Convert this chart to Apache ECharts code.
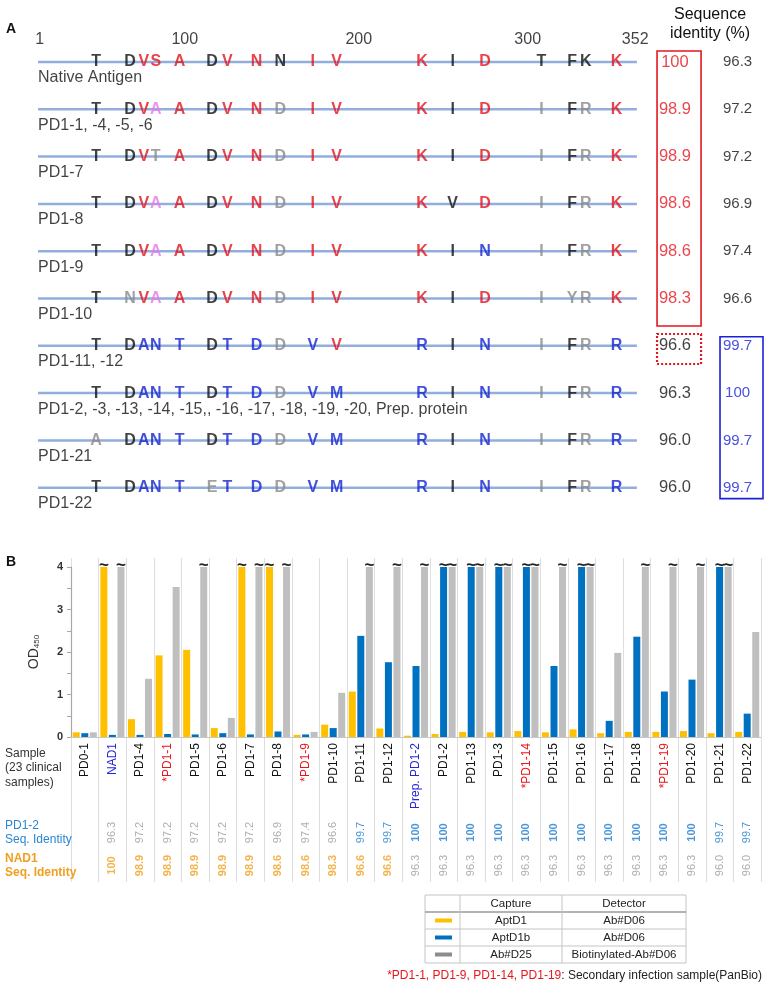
<!DOCTYPE html>
<html><head><meta charset="utf-8">
<script src="https://cdn.jsdelivr.net/npm/echarts@6/dist/echarts.min.js"></script>
<style>html,body{margin:0;padding:0;background:#fff}#c{width:771px;height:988px}</style>
</head><body><div id="c"></div>
<script>
// ---------- Panel A : sequence schematic ----------
const scaleTickText = ['1', '100', '200', '300', '352'];
const scaleTickX = [2, 87, 189, 288, 351];          // drawing units where the scale labels sit
const seqStart = 1, seqEnd = 352;
const siteX = [35, 55, 63, 70, 84, 103, 112, 129, 143, 162, 176, 226, 244, 263, 296, 314, 322, 340];
const rowNames = ['Native Antigen', 'PD1-1, -4, -5, -6', 'PD1-7', 'PD1-8', 'PD1-9', 'PD1-10', 'PD1-11, -12',
  'PD1-2, -3, -13, -14, -15,, -16, -17, -18, -19, -20, Prep. protein', 'PD1-21', 'PD1-22'];
const rowResidues = ['TDVSADVNNIVKIDTFKK', 'TDVAADVNDIVKIDIFRK', 'TDVTADVNDIVKIDIFRK', 'TDVAADVNDIVKVDIFRK',
  'TDVAADVNDIVKINIFRK', 'TNVAADVNDIVKIDIYRK', 'TDANTDTDDVVRINIFRR', 'TDANTDTDDVMRINIFRR',
  'ADANTDTDDVMRINIFRR', 'TDANTETDDVMRINIFRR'];
// k = conserved, r = NAD1-type, m = variant, g = substitution, b = PD1-2-type
const rowResidueClass = ['kkrrrkrrkrrrkrkkkr', 'kkrmrkrrgrrrkrgkgr', 'kkrgrkrrgrrrkrgkgr', 'kkrmrkrrgrrrkrgkgr',
  'kkrmrkrrgrrrkbgkgr', 'kgrmrkrrgrrrkrgggr', 'kkbbbkbbgbrbkbgkgb', 'kkbbbkbbgbbbkbgkgb',
  'gkbbbkbbgbbbkbgkgb', 'kkbbbgbbgbbbkbgkgb'];
const rowGroup = ['N', 'N', 'N', 'N', 'N', 'N', 'P', 'P', 'P', 'P'];
const identityNAD1 = ['100', '98.9', '98.9', '98.6', '98.6', '98.3', '96.6', '96.3', '96.0', '96.0'];
const identityPD12 = ['96.3', '97.2', '97.2', '96.9', '97.4', '96.6', '99.7', '100', '99.7', '99.7'];
const idColX = [374.3, 411];

// ---------- Panel B : OD450 bars ----------
const categories = ['PD0-1', 'NAD1', 'PD1-4', '*PD1-1', 'PD1-5', 'PD1-6', 'PD1-7', 'PD1-8', '*PD1-9', 'PD1-10',
  'PD1-11', 'PD1-12', 'Prep. PD1-2', 'PD1-2', 'PD1-13', 'PD1-3', '*PD1-14', 'PD1-15', 'PD1-16', 'PD1-17',
  'PD1-18', '*PD1-19', 'PD1-20', 'PD1-21', 'PD1-22'];
const aptD1 = [0.11, 4, 0.42, 1.92, 2.05, 0.21, 4, 4, 0.05, 0.29, 1.07, 0.2, 0.03, 0.07, 0.12, 0.11, 0.14, 0.11, 0.18, 0.09, 0.12, 0.12, 0.14, 0.09, 0.12];
const aptD1b = [0.09, 0.05, 0.05, 0.07, 0.06, 0.09, 0.06, 0.13, 0.06, 0.21, 2.38, 1.76, 1.67, 4, 4, 4, 4, 1.67, 4, 0.38, 2.36, 1.07, 1.35, 4, 0.55];
const abD25 = [0.11, 4, 1.37, 3.53, 4, 0.45, 4, 4, 0.12, 1.04, 4, 4, 4, 4, 4, 4, 4, 4, 4, 1.98, 4, 4, 4, 4, 2.47];
const pd12Identity = [null, 96.3, 97.2, 97.2, 97.2, 97.2, 97.2, 96.9, 97.4, 96.6, 99.7, 99.7, 100, 100, 100, 100, 100, 100, 100, 100, 100, 100, 100, 99.7, 99.7];
const nad1Identity = [null, 100, 98.9, 98.9, 98.9, 98.9, 98.9, 98.6, 98.6, 98.3, 96.6, 96.6, 96.3, 96.3, 96.3, 96.3, 96.3, 96.3, 96.3, 96.3, 96.3, 96.3, 96.3, 96.0, 96.0];
const refAntigens = ['NAD1', 'Prep. PD1-2'];
const odMax = 4;

// ---------- styles ----------
const FONT = '"Liberation Sans", Arial, sans-serif';
const resColor = { k: '#111111', r: '#e5131b', m: '#e27be6', g: '#8a8a8a', b: '#1424d2' };
const RED = '#e3161e', BLUE = '#1a22d8';
const cYellow = '#FFC000', cBlue = '#0070C0', cGray = '#BFBFBF';

const series = [];
// schematic backbone lines
rowNames.forEach((n, i) => {
  series.push({ type: 'line', xAxisIndex: 0, yAxisIndex: 0, data: [[seqStart, i], [seqEnd, i]], symbol: 'none',
    silent: true, z: 1, lineStyle: { color: '#91aedd', width: 2.5 } });
});
// residues
const resData = [];
rowResidues.forEach((s, i) => {
  for (let j = 0; j < s.length; j++) {
    resData.push({ value: [siteX[j], i], name: s[j], label: { color: resColor[rowResidueClass[i][j]] } });
  }
});
series.push({ type: 'scatter', xAxisIndex: 0, yAxisIndex: 0, data: resData, symbolSize: 0, silent: true, z: 3,
  label: { show: true, position: 'inside', formatter: '{b}', fontFamily: FONT, fontSize: 16, fontWeight: 'bold' } });
// row names
series.push({ type: 'scatter', xAxisIndex: 0, yAxisIndex: 0, symbolSize: 0, silent: true, z: 3,
  data: rowNames.map((n, i) => ({ value: [seqStart, i + 0.34], name: n })),
  label: { show: true, position: 'inside', align: 'left', formatter: '{b}', fontFamily: FONT, fontSize: 16, color: '#111' } });
// scale labels
series.push({ type: 'scatter', xAxisIndex: 0, yAxisIndex: 0, symbolSize: 0, silent: true, z: 3,
  data: scaleTickText.map((t, i) => ({ value: [scaleTickX[i], -0.465], name: t })),
  label: { show: true, position: 'inside', formatter: '{b}', fontFamily: FONT, fontSize: 16, color: '#111' } });
// identity columns + boxes
series.push({ type: 'scatter', xAxisIndex: 0, yAxisIndex: 0, symbolSize: 0, silent: true, z: 3,
  data: identityNAD1.map((t, i) => ({ value: [idColX[0], i], name: t, label: { color: rowGroup[i] === 'N' ? RED : '#111' } })),
  label: { show: true, position: 'inside', formatter: '{b}', fontFamily: FONT, fontSize: 16.5 },
  markArea: { silent: true, label: { show: false },
    data: [
      [{ xAxis: 363.8, yAxis: -0.233, itemStyle: { color: 'rgba(0,0,0,0)', borderColor: RED, borderWidth: 1.6 } }, { xAxis: 389.6, yAxis: 5.58 }],
      [{ xAxis: 363.8, yAxis: 5.75, itemStyle: { color: 'rgba(0,0,0,0)', borderColor: RED, borderWidth: 2.2, borderType: [2, 2] } }, { xAxis: 389.6, yAxis: 6.385 }],
      [{ xAxis: 400.7, yAxis: 5.81, itemStyle: { color: 'rgba(0,0,0,0)', borderColor: BLUE, borderWidth: 1.6 } }, { xAxis: 425.9, yAxis: 9.23 }]
    ] } });
series.push({ type: 'scatter', xAxisIndex: 0, yAxisIndex: 0, symbolSize: 0, silent: true, z: 3,
  data: identityPD12.map((t, i) => ({ value: [idColX[1], i], name: t, label: { color: rowGroup[i] === 'P' ? BLUE : '#111' } })),
  label: { show: true, position: 'inside', formatter: '{b}', fontFamily: FONT, fontSize: 15 } });

// bars
const tilde = { show: true, position: 'top', distance: -7, formatter: p => (p.value >= odMax ? '~' : ''),
  fontFamily: FONT, fontSize: 17, fontWeight: 'bold', color: '#222' };
[['AptD1', aptD1, cYellow], ['AptD1b', aptD1b, cBlue], ['Ab#D25', abD25, cGray]].forEach(([n, d, c]) => {
  series.push({ name: n, type: 'bar', xAxisIndex: 1, yAxisIndex: 1, data: d, barWidth: 7, barGap: '22%',
    itemStyle: { color: c }, label: tilde, z: 2 });
});
// identity rows (panel B)
const fmt = v => (v === 100 ? '100' : v.toFixed(1));
series.push({ type: 'scatter', xAxisIndex: 3, yAxisIndex: 3, symbolSize: 0, silent: true,
  data: pd12Identity.map((v, i) => v == null ? null : { value: [i, 1], name: fmt(v),
    label: { color: v >= 99 ? '#1e7ccc' : '#9a9a9a', fontWeight: v === 100 ? 'bold' : 'normal' } }).filter(Boolean),
  label: { show: true, position: 'inside', rotate: 90, formatter: '{b}', fontFamily: FONT, fontSize: 11 } });
series.push({ type: 'scatter', xAxisIndex: 3, yAxisIndex: 3, symbolSize: 0, silent: true,
  data: nad1Identity.map((v, i) => v == null ? null : { value: [i, 0], name: fmt(v),
    label: { color: v >= 96.5 ? '#f0a020' : '#9a9a9a', fontWeight: v >= 96.5 ? 'bold' : 'normal' } }).filter(Boolean),
  label: { show: true, position: 'inside', rotate: 90, formatter: '{b}', fontFamily: FONT, fontSize: 11 } });

// legend table graphic
const tbl = [];
const tx = [425, 460, 562, 686], ty = [895, 912, 929, 946, 963];
tbl.push({ type: 'rect', shape: { x: tx[0], y: ty[0], width: tx[3] - tx[0], height: ty[4] - ty[0] }, style: { fill: 'none', stroke: '#c4c4c4', lineWidth: 1 } });
[1, 2, 3].forEach(k => tbl.push({ type: 'line', shape: { x1: tx[0], y1: ty[k], x2: tx[3], y2: ty[k] }, style: { stroke: k === 1 ? '#9a9a9a' : '#c4c4c4', lineWidth: k === 1 ? 1.5 : 1 } }));
[1, 2].forEach(k => tbl.push({ type: 'line', shape: { x1: tx[k], y1: ty[0], x2: tx[k], y2: ty[4] }, style: { stroke: '#c4c4c4', lineWidth: 1 } }));
const tText = (t, x, y) => ({ type: 'text', x, y, style: { text: t, fill: '#222', font: '11.5px ' + FONT, textAlign: 'center', textVerticalAlign: 'middle' } });
tbl.push(tText('Capture', 511, 904), tText('Detector', 624, 904));
const legendRows = [['AptD1', 'Ab#D06', cYellow], ['AptD1b', 'Ab#D06', cBlue], ['Ab#D25', 'Biotinylated-Ab#D06', '#8c8c8c']];
legendRows.forEach((r, k) => {
  const y = (ty[k + 1] + ty[k + 2]) / 2;
  tbl.push({ type: 'line', shape: { x1: 435, y1: y, x2: 452, y2: y }, style: { stroke: r[2], lineWidth: 4 } });
  tbl.push(tText(r[0], 511, y), tText(r[1], 624, y));
});

const option = {
  animation: false,
  backgroundColor: '#fff',
  textStyle: { fontFamily: FONT },
  grid: [
    { left: 38, right: 1, top: 38.35, height: 473 },
    { left: 71, right: 10, top: 567, height: 170 },
    { left: 71, right: 10, top: 558, height: 324 },
    { left: 71, right: 10, top: 816, height: 66 }
  ],
  xAxis: [
    { gridIndex: 0, type: 'value', min: 1, max: 430, show: false },
    { gridIndex: 1, type: 'category', data: categories, axisTick: { show: false },
      axisLine: { lineStyle: { color: '#c8c8c8' } },
      axisLabel: { rotate: 90, interval: 0, margin: 6, fontSize: 12, fontFamily: FONT,
        formatter: v => v.startsWith('*') ? '{r|' + v + '}' : refAntigens.includes(v) ? '{b|' + v + '}' : '{k|' + v + '}',
        rich: { r: { color: '#e8161c', fontSize: 12, fontFamily: FONT }, b: { color: '#2626d6', fontSize: 12, fontFamily: FONT }, k: { color: '#111', fontSize: 12, fontFamily: FONT } } } },
    { gridIndex: 2, type: 'category', data: categories, axisLine: { show: false }, axisTick: { show: false },
      axisLabel: { show: false }, splitLine: { show: true, interval: 0, lineStyle: { color: '#dedede', width: 1 } } },
    { gridIndex: 3, type: 'category', data: categories, show: false }
  ],
  yAxis: [
    { gridIndex: 0, type: 'value', min: -0.5, max: 9.5, inverse: true, show: false },
    { gridIndex: 1, type: 'value', min: 0, max: odMax, interval: 1,
      axisLine: { show: true, lineStyle: { color: '#a8a8a8', width: 1.2 } },
      axisTick: { show: true, length: 4, lineStyle: { color: '#a8a8a8' } },
      minorTick: { show: true, splitNumber: 2, length: 4, lineStyle: { color: '#a8a8a8' } },
      splitLine: { show: false },
      axisLabel: { fontSize: 11, fontWeight: 'bold', color: '#333', margin: 8, fontFamily: FONT },
      name: '{a|OD}{s|450}', nameLocation: 'middle', nameGap: 30, nameRotate: 90,
      nameTextStyle: { rich: { a: { fontSize: 14, color: '#333', fontFamily: FONT }, s: { fontSize: 8, color: '#333', fontFamily: FONT, padding: [6, 0, 0, 0] } } } },
    { gridIndex: 2, type: 'value', show: false },
    { gridIndex: 3, type: 'category', data: ['NAD1', 'PD1-2'], axisLine: { show: false }, axisTick: { show: false },
      axisLabel: { align: 'left', margin: 66, fontFamily: FONT,
        formatter: v => v === 'PD1-2' ? '{p|PD1-2}\n{p|Seq. Identity}' : '{o|NAD1}\n{o|Seq. Identity}',
        rich: { p: { color: '#2a86d2', fontSize: 12, lineHeight: 14, fontFamily: FONT },
                o: { color: '#f0a020', fontSize: 12, lineHeight: 14, fontWeight: 'bold', fontFamily: FONT } } } }
  ],
  series,
  graphic: [
    { type: 'text', left: 6, top: 22, style: { text: 'A', font: 'bold 14px ' + FONT, fill: '#111' } },
    { type: 'text', left: 6, top: 555, style: { text: 'B', font: 'bold 14px ' + FONT, fill: '#111' } },
    { type: 'text', x: 710, y: 5, style: { text: 'Sequence\nidentity (%)', font: '16px ' + FONT, fill: '#111', textAlign: 'center', lineHeight: 19 } },
    { type: 'text', x: 5, y: 746, style: { text: 'Sample\n(23 clinical\nsamples)', font: '12px ' + FONT, fill: '#333', lineHeight: 14.5 } },
    { type: 'group', children: tbl },
    { type: 'text', x: 762, y: 976, style: { text: '{r|*PD1-1, PD1-9, PD1-14, PD1-19}{k|: Secondary infection sample(PanBio)}',
      textAlign: 'right', textVerticalAlign: 'middle',
      rich: { r: { fill: '#e8161c', font: '12px ' + FONT }, k: { fill: '#222', font: '12px ' + FONT } } } }
  ]
};
const chart = echarts.init(document.getElementById('c'), null, { renderer: 'canvas' });
chart.setOption(option);
</script></body></html>
